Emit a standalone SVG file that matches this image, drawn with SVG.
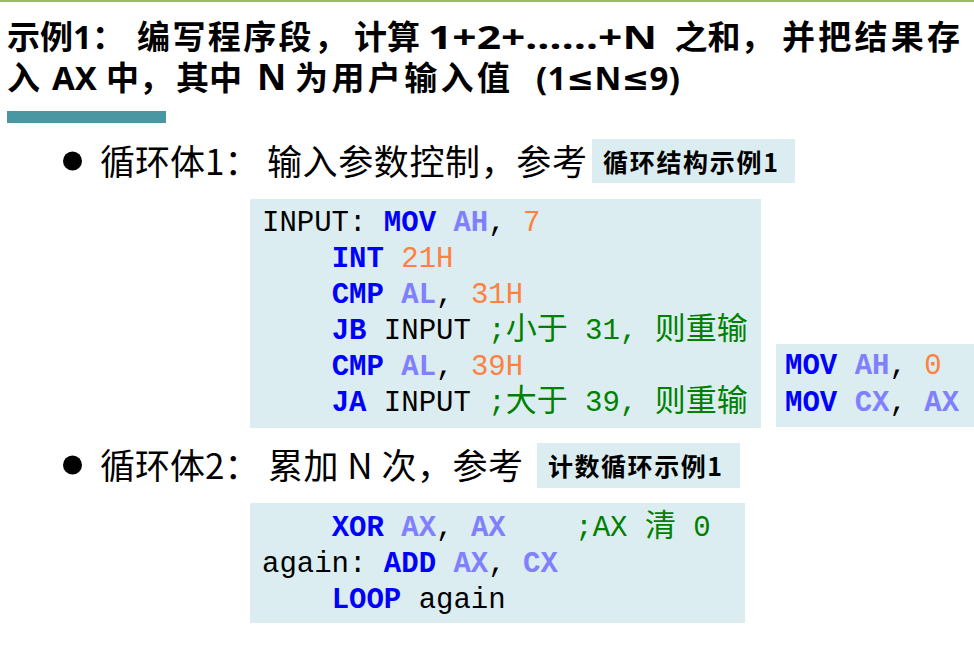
<svg xmlns="http://www.w3.org/2000/svg" width="974" height="665" viewBox="0 0 974 665">
<style>
.title{font-family:"Noto Sans","Noto Sans CJK SC",sans-serif;font-weight:bold;font-size:33px;fill:#000}
.tc{font-family:"Noto Sans CJK SC",sans-serif;font-size:33px}
.le{font-family:"DejaVu Sans","Noto Sans",sans-serif}
.bul{font-family:"Noto Sans CJK SC","Noto Sans",sans-serif;font-size:35px;fill:#000}
.lbl{font-family:"Noto Sans CJK SC",sans-serif;font-weight:bold;font-size:25px;fill:#000}
.box{fill:#dbedf0}
.code{font-family:"Liberation Mono","Noto Sans CJK SC",monospace;font-size:29px;fill:#000}
.z{font-family:"Noto Sans CJK SC",sans-serif;font-size:31px}
.k{fill:#0000ff;font-weight:bold}
.r{fill:#8080ff;font-weight:bold}
.n{fill:#ff8040}
.c{fill:#008000}
</style>
<rect x="0" y="0" width="974" height="2" fill="#9bbb59"/>
<g id="title">
<text class="title" y="49"><tspan x="7"><tspan class="tc">示例</tspan>1<tspan class="tc">：</tspan></tspan><tspan class="tc" x="137" textLength="210">编写程序段，</tspan><tspan class="tc" x="354">计算 </tspan><tspan x="428" textLength="229" lengthAdjust="spacingAndGlyphs">1+2+……+N</tspan><tspan class="tc" x="667"> 之和，</tspan><tspan class="tc" x="782" textLength="178">并把结果存</tspan></text>
<text class="title" y="90"><tspan class="tc" x="7">入 </tspan><tspan x="52">AX </tspan><tspan class="tc" x="106">中，</tspan><tspan class="tc" x="176">其中 </tspan><tspan x="257" font-size="36">N </tspan><tspan class="tc" x="295" textLength="215">为用户输入值</tspan><tspan x="527" textLength="153"> (1<tspan class="le">≤</tspan>N<tspan class="le">≤</tspan>9)</tspan></text>
<rect x="7" y="111" width="159" height="12" fill="#4a96a1"/>
</g>
<g id="bullet1">
<circle cx="72.5" cy="161" r="9.5" fill="#000"/>
<text class="bul" y="175"><tspan x="100">循环体1：</tspan><tspan x="267" textLength="320">输入参数控制，参考</tspan></text>
</g>
<g id="ref1">
<rect class="box" x="592" y="139" width="203" height="44"/>
<text class="lbl" x="603" y="172" textLength="175">循环结构示例1</text>
</g>
<g id="code1">
<rect class="box" x="250" y="199" width="511" height="229"/>
<text class="code" xml:space="preserve" x="262" y="231">INPUT: <tspan class="k">MOV</tspan> <tspan class="r">AH</tspan>, <tspan class="n">7</tspan></text>
<text class="code" xml:space="preserve" x="262" y="267">    <tspan class="k">INT</tspan> <tspan class="n">21H</tspan></text>
<text class="code" xml:space="preserve" x="262" y="303">    <tspan class="k">CMP</tspan> <tspan class="r">AL</tspan>, <tspan class="n">31H</tspan></text>
<text class="code" xml:space="preserve" x="262" y="339">    <tspan class="k">JB</tspan> INPUT <tspan class="c">;<tspan class="z">小于</tspan> 31, <tspan class="z">则重输</tspan></tspan></text>
<text class="code" xml:space="preserve" x="262" y="375">    <tspan class="k">CMP</tspan> <tspan class="r">AL</tspan>, <tspan class="n">39H</tspan></text>
<text class="code" xml:space="preserve" x="262" y="411">    <tspan class="k">JA</tspan> INPUT <tspan class="c">;<tspan class="z">大于</tspan> 39, <tspan class="z">则重输</tspan></tspan></text>
</g>
<g id="code2">
<rect class="box" x="776" y="344" width="198" height="83"/>
<text class="code" xml:space="preserve" x="785" y="374"><tspan class="k">MOV</tspan> <tspan class="r">AH</tspan>, <tspan class="n">0</tspan></text>
<text class="code" xml:space="preserve" x="785" y="411"><tspan class="k">MOV</tspan> <tspan class="r">CX</tspan>, <tspan class="r">AX</tspan></text>
</g>
<g id="bullet2">
<circle cx="72.5" cy="465" r="9.5" fill="#000"/>
<text class="bul" y="479"><tspan x="100">循环体2：</tspan><tspan x="268" textLength="255">累加 N 次，参考</tspan></text>
</g>
<g id="ref2">
<rect class="box" x="537" y="443" width="203" height="45"/>
<text class="lbl" x="548" y="476" textLength="174">计数循环示例1</text>
</g>
<g id="code3">
<rect class="box" x="250" y="503" width="495" height="120"/>
<text class="code" xml:space="preserve" x="262" y="536">    <tspan class="k">XOR</tspan> <tspan class="r">AX</tspan>, <tspan class="r">AX</tspan>    <tspan class="c">;AX <tspan class="z">清</tspan> 0</tspan></text>
<text class="code" xml:space="preserve" x="262" y="572">again: <tspan class="k">ADD</tspan> <tspan class="r">AX</tspan>, <tspan class="r">CX</tspan></text>
<text class="code" xml:space="preserve" x="262" y="608">    <tspan class="k">LOOP</tspan> again</text>
</g>
<g id="connectors"/>
</svg>
